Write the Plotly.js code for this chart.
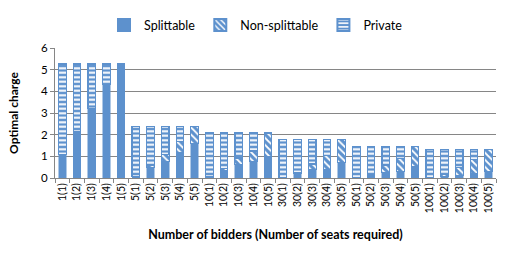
<!DOCTYPE html>
<html>
<head>
<meta charset="utf-8">
<script src="https://cdn.plot.ly/plotly-3.0.1.min.js"></script>
<style>html,body{margin:0;padding:0;background:#fff;}#chart{width:512px;height:254px;}</style>
</head>
<body>
<div id="chart"></div>
<script>
const categories = ["1(1)","1(2)","1(3)","1(4)","1(5)","5(1)","5(2)","5(3)","5(4)","5(5)","10(1)","10(2)","10(3)","10(4)","10(5)","30(1)","30(2)","30(3)","30(4)","30(5)","50(1)","50(2)","50(3)","50(4)","50(5)","100(1)","100(2)","100(3)","100(4)","100(5)"];
const splittable = [1.07,2.15,3.2,4.3,5.26, 0.08,0.5,0.77,1.2,1.6, 0.05,0.35,0.62,0.75,1.0, 0.03,0.2,0.4,0.4,0.7, 0.02,0.1,0.25,0.3,0.55, 0.02,0.05,0.12,0.2,0.3];
const nonSplittable = [0,0,0,0,0, 0,0.1,0.3,0.5,0.78, 0,0.1,0.3,0.5,1.08, 0,0.07,0.25,0.65,1.07, 0,0.05,0.35,0.6,0.9, 0,0.1,0.35,0.65,1.02];
const privateVals = [4.19,3.11,2.06,0.96,0, 2.3,1.78,1.31,0.68,0, 2.03,1.63,1.16,0.83,0, 1.74,1.5,1.12,0.72,0, 1.43,1.3,0.85,0.55,0, 1.3,1.17,0.85,0.47,0];
const seriesNames = ["Splittable","Non-splittable","Private"];
const yTicks = [0,1,2,3,4,5,6];

const blue = "#5D91CD";
const fontFam = "Lato, 'Open Sans', sans-serif";

const traces = [
  {type:"bar", name:seriesNames[0], x:categories, y:splittable,
   marker:{color:blue, line:{color:blue, width:0.5}}},
  {type:"bar", name:seriesNames[1], x:categories, y:nonSplittable,
   marker:{color:blue, line:{color:blue, width:1},
     pattern:{shape:"\\", fgcolor:"#ffffff", bgcolor:blue, size:5, solidity:0.35, fillmode:"replace"}}},
  {type:"bar", name:seriesNames[2], x:categories, y:privateVals,
   marker:{color:blue, line:{color:blue, width:1.2},
     pattern:{shape:"-", fgcolor:"#ffffff", bgcolor:blue, size:4.5, solidity:0.45, fillmode:"replace"}}}
];

const layout = {
  width:512, height:254,
  margin:{l:55, r:16, t:48, b:76, autoexpand:false},
  paper_bgcolor:"#ffffff", plot_bgcolor:"#ffffff",
  barmode:"stack", bargap:0.48,
  font:{family:fontFam, size:11, color:"#000"},
  showlegend:true,
  legend:{orientation:"h", x:0.5, xref:"container", xanchor:"center", y:0.9, yref:"container", yanchor:"middle",
          font:{family:fontFam, size:12.5, color:"#000"}, traceorder:"normal",
          itemwidth:30, itemsizing:"constant", tracegroupgap:0},
  xaxis:{type:"category", tickangle:-90, tickfont:{family:fontFam, size:10.5},
         showgrid:false, showline:true, linecolor:"#868686", linewidth:1,
         ticks:"outside", tickson:"boundaries", ticklen:4, tickcolor:"#868686",
         title:{text:"<b>Number of bidders (Number of seats required)</b>", font:{family:fontFam, size:12.5}, standoff:18},
         fixedrange:true},
  yaxis:{range:[0,6], tickvals:yTicks, showgrid:true, gridcolor:"#868686", gridwidth:1,
         showline:true, linecolor:"#868686", linewidth:1, ticks:"outside", ticklen:4, tickcolor:"#868686",
         tickfont:{family:fontFam, size:11.5}, zeroline:false,
         title:{text:"<b>Optimal charge</b>", font:{family:fontFam, size:12}, standoff:19},
         fixedrange:true}
};

Plotly.newPlot("chart", traces, layout, {displayModeBar:false, staticPlot:true});
</script>
</body>
</html>
